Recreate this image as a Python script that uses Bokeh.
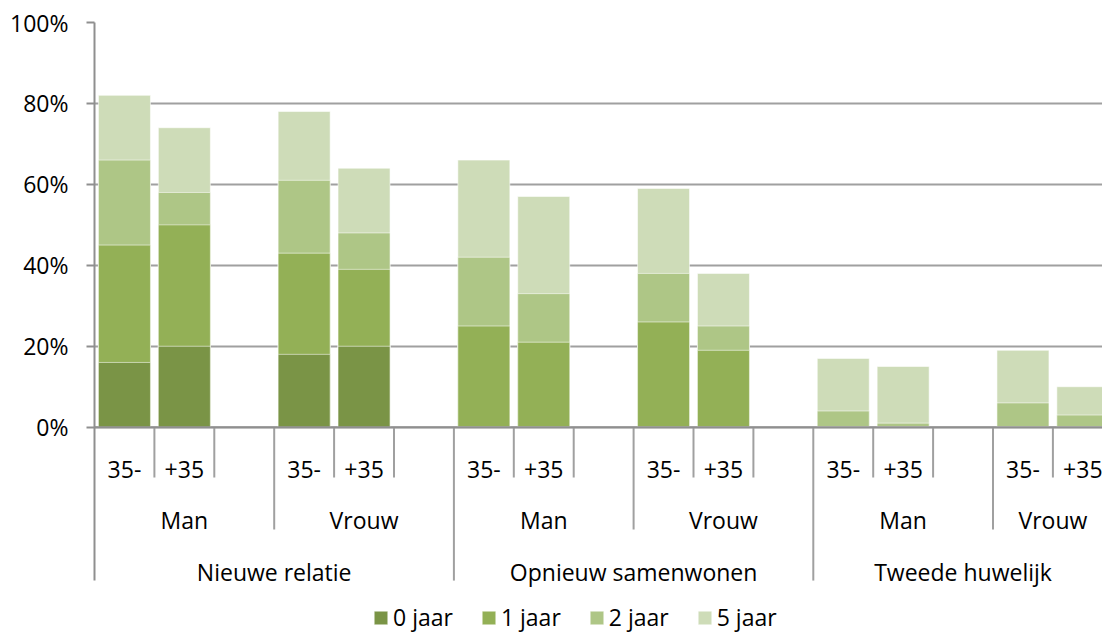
from bokeh.plotting import figure
from bokeh.models import Range1d, FixedTicker, PrintfTickFormatter, Legend, LegendItem, Span, ColumnDataSource
from bokeh.core.properties import value
from bokeh.embed import file_html
from bokeh.resources import INLINE

# ---- data (cumulative % within N years) ----
groups = ["Nieuwe relatie", "Opnieuw samenwonen", "Tweede huwelijk"]
genders = ["Man", "Vrouw"]
ages = ["35-", "+35"]
series = ["0 jaar", "1 jaar", "2 jaar", "5 jaar"]

# order: group -> gender -> age
jaar0 = [16, 20, 18, 20, 0, 0, 0, 0, 0, 0, 0, 0]
jaar1 = [45, 50, 43, 39, 25, 21, 26, 19, 0, 0, 0, 0]
jaar2 = [66, 58, 61, 48, 42, 33, 38, 25, 4, 1, 6, 3]
jaar5 = [82, 74, 78, 64, 66, 57, 59, 38, 17, 15, 19, 10]

colors = ["#7A9446", "#93B056", "#AEC686", "#CEDCB8"]

FONT = "Open Sans"
FS = "23px"
GRAY = "#a0a0a0"
AXGRAY = "#8f8f8f"

W, H = 1102, 632
LEFT, TOP = 94, 22
frame_w = W - LEFT
frame_h = H - TOP
slot_px = 59.9
px_per_unit = 4.047
ymin = 100 - frame_h / px_per_unit
axis_end = 17.0          # end of the category axis (beyond the visible edge)
x_end = frame_w / slot_px

p = figure(width=W, height=H, output_backend="svg", toolbar_location=None,
           title=None, x_axis_location=None,
           x_range=Range1d(0, x_end), y_range=Range1d(ymin, 100),
           min_border_left=LEFT, min_border_right=0, min_border_top=TOP,
           min_border_bottom=0)
p.outline_line_color = None
p.background_fill_color = "white"
p.border_fill_color = "white"

# slot positions
xs, age_lbl = [], []
for gi, g in enumerate(groups):
    for si, s in enumerate(genders):
        for ai, a in enumerate(ages):
            xs.append(gi * 6 + si * 3 + ai + 0.5)
            age_lbl.append(a)

src = ColumnDataSource(dict(x=xs, j0=jaar0, j1=jaar1, j2=jaar2, j5=jaar5))

renderers = {}
for key, name, col in [("j5", "5 jaar", colors[3]), ("j2", "2 jaar", colors[2]),
                       ("j1", "1 jaar", colors[1]), ("j0", "0 jaar", colors[0])]:
    renderers[name] = p.vbar(x="x", top=key, bottom=0, width=0.868, source=src,
                             fill_color=col, line_color="white", line_alpha=0.55,
                             line_width=1)

# depths of the category separators / label baselines (in y units)
d_age, d_gender, d_group = -12.43, -25.28, -37.9
b_age, b_gender, b_group = -10.53, -23.05, -35.83

# y axis
p.yaxis.bounds = (d_group, 100)
p.yaxis.ticker = FixedTicker(ticks=[0, 20, 40, 60, 80, 100])
p.yaxis.formatter = PrintfTickFormatter(format="%d%%")
p.yaxis.major_label_text_font = FONT
p.yaxis.major_label_text_font_size = FS
p.yaxis.major_label_text_color = "black"
p.yaxis.major_label_standoff = 18
p.yaxis.major_tick_out = 8
p.yaxis.major_tick_in = 0
p.yaxis.minor_tick_out = 0
p.yaxis.minor_tick_in = 0
p.yaxis.axis_line_color = AXGRAY
p.yaxis.axis_line_width = 2
p.yaxis.major_tick_line_color = AXGRAY
p.yaxis.major_tick_line_width = 2

p.ygrid.grid_line_color = GRAY
p.ygrid.grid_line_width = 2
p.ygrid.bounds = (0, 100)
p.xgrid.grid_line_color = None

p.add_layout(Span(location=0, dimension="width", line_color=AXGRAY, line_width=2))

# category separators
n_slots = len(groups) * 6
sx, sy0, sy1 = [], [], []
for k in range(1, n_slots):
    if k % 6 == 0:
        d = d_group
    elif k % 3 == 0:
        d = d_gender
    else:
        d = d_age
    sx.append(k)
    sy0.append(0)
    sy1.append(d)
p.segment(x0=sx, y0=sy0, x1=sx, y1=sy1, line_color=GRAY, line_width=2)


def vis_center(a, b):
    return (a + min(b, axis_end)) / 2


# category labels
p.text(x=xs, y=[b_age] * len(xs), text=age_lbl, text_align="center",
       text_baseline="alphabetic", text_font=value(FONT),
       text_font_size=value(FS), text_color="black")
gx, gl = [], []
for gi, g in enumerate(groups):
    for si, s in enumerate(genders):
        st = gi * 6 + si * 3
        gx.append(vis_center(st, st + 3))
        gl.append(s)
p.text(x=gx, y=[b_gender] * len(gx), text=gl, text_align="center",
       text_baseline="alphabetic", text_font=value(FONT),
       text_font_size=value(FS), text_color="black")
p.text(x=[vis_center(gi * 6, gi * 6 + 6) for gi in range(len(groups))],
       y=[b_group] * len(groups),
       text=groups, text_align="center", text_baseline="alphabetic",
       text_font=value(FONT), text_font_size=value(FS), text_color="black")

legend = Legend(items=[LegendItem(label=n, renderers=[renderers[n]]) for n in series],
                orientation="horizontal", location=(278, -1),
                glyph_width=17, glyph_height=17, label_standoff=4, spacing=27,
                padding=0, margin=0, border_line_color=None,
                background_fill_alpha=0, label_text_font=FONT,
                label_text_font_size=FS, label_text_color="black")
p.add_layout(legend)

open("out.html", "w").write(file_html(p, INLINE))
